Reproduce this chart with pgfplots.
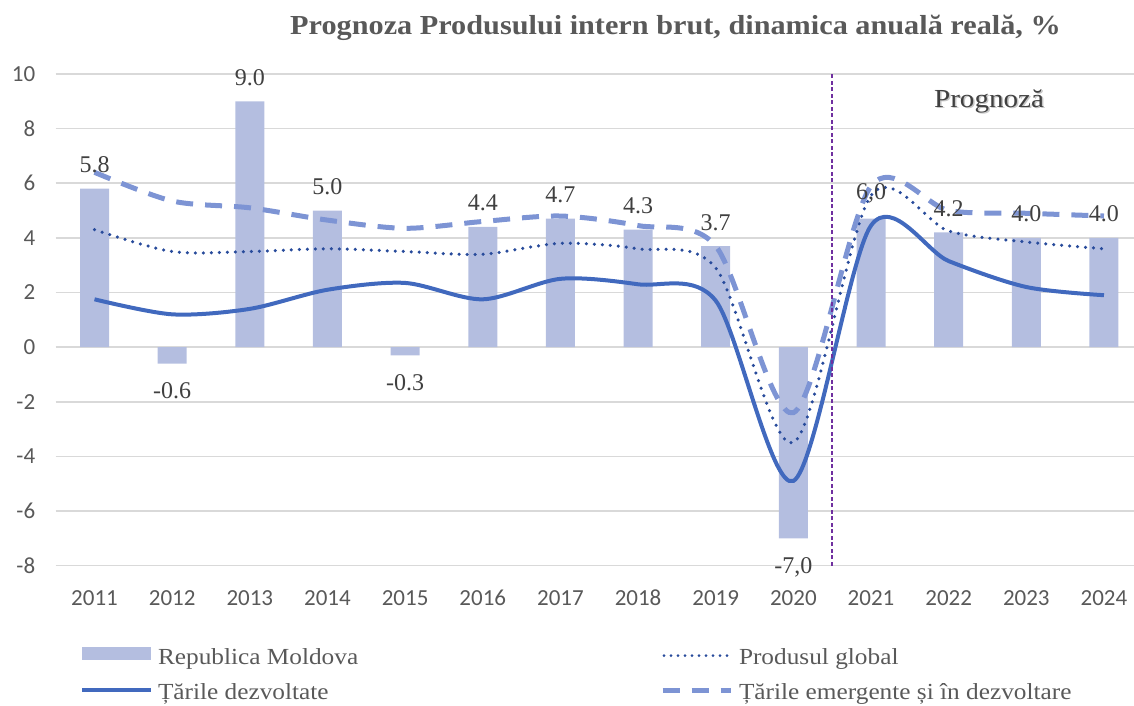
\documentclass[border=0pt]{standalone}
\usepackage{fontspec}
\setmainfont{Liberation Serif}
\newfontfamily\tickfont{Carlito}
\usepackage{pgfplots}
\usepackage{pgfplotstable}
\pgfplotsset{compat=1.18}

\definecolor{barc}{RGB}{180,190,224}
\definecolor{solidc}{RGB}{65,105,190}
\definecolor{dotc}{RGB}{40,75,155}
\definecolor{dashc}{RGB}{125,148,212}
\definecolor{vlinec}{RGB}{112,48,160}
\definecolor{txt}{RGB}{89,89,89}
\definecolor{lbl}{RGB}{64,64,64}
\definecolor{gridc}{RGB}{217,217,217}

% Republica Moldova, years with growth (label above the bar)
\pgfplotstableread{
x  rm    lab
0  5.8   5.8
2  9.0   9.0
3  5.0   5.0
5  4.4   4.4
6  4.7   4.7
7  4.3   4.3
8  3.7   3.7
10 4.7   {6,0}
11 4.2   4.2
12 4.0   4.0
13 4.0   4.0
}\rmpos
% Republica Moldova, years with decline (label below the bar)
\pgfplotstableread{
x  rm    lab
1  -0.6  -0.6
4  -0.3  -0.3
9  -7.0  {-7,0}
}\rmneg

% global, advanced, emerging
\pgfplotstableread{
x  glob  adv   emg
0  4.3   1.75  6.4
1  3.5   1.2   5.35
2  3.5   1.4   5.1
3  3.6   2.1   4.65
4  3.5   2.35  4.35
5  3.4   1.75  4.6
6  3.8   2.5   4.8
7  3.6   2.3   4.45
8  2.9   1.7   3.7
9  -3.5  -4.9  -2.4
10 5.55  4.45  5.9
11 4.25  3.15  5.0
12 3.85  2.2   4.9
13 3.6   1.9   4.8
}\lines

\newcommand{\legtxt}[1]{\scalebox{1.1}[1]{#1}}

\begin{document}
\begin{tikzpicture}
\useasboundingbox (0pt,0pt) rectangle (1134pt,705pt);
\begin{axis}[
  at={(55.7pt,139.4pt)}, anchor=south west,
  scale only axis, width=1087.1pt, height=491.6pt,
  xmin=-0.5, xmax=13.5, ymin=-8, ymax=10,
  axis line style={draw=none},
  major tick length=0pt,
  xtick={0,...,13},
  xticklabels={2011,2012,2013,2014,2015,2016,2017,2018,2019,2020,2021,2022,2023,2024},
  ytick={-8,-6,...,10},
  yticklabels={-8,-6,-4,-2,0,2,4,6,8,10},
  ymajorgrids, grid style={gridc, line width=1.6pt},
  tick label style={font=\tickfont\fontsize{23}{27}\selectfont, text=txt},
  xticklabel style={yshift=-21pt},
  yticklabel style={xshift=-17pt},
  legend columns=2,
  legend style={at={(axis description cs:0.02235,-0.1656)}, anchor=north west,
    draw=none, fill=none, inner sep=0pt, outer sep=0pt,
    font=\fontsize{23}{27}\selectfont, text=txt,
    column sep=5pt, row sep=13pt,
    nodes={inner sep=0pt, text height=17pt, text depth=5pt}},
  legend cell align=left,
  clip=false,
]
\addplot[ybar, bar width=29pt, bar shift=0pt, fill=barc, draw=none,
  point meta=explicit symbolic, nodes near coords,
  nodes near coords style={font=\fontsize{24}{28}\selectfont, text=lbl, anchor=south, inner sep=15.5pt},
  legend image code/.code={\fill[barc] (0pt,-2pt) rectangle (69pt,11pt);}]
  table[x=x, y=rm, meta=lab] {\rmpos};
\addlegendentry{\makebox[497pt][l]{\legtxt{Republica Moldova}}}

\addplot[ybar, bar width=29pt, bar shift=0pt, fill=barc, draw=none, forget plot,
  point meta=explicit symbolic, nodes near coords,
  nodes near coords style={font=\fontsize{24}{28}\selectfont, text=lbl, anchor=north, inner sep=19pt}]
  table[x=x, y=rm, meta=lab] {\rmneg};

\addplot[dotc, line width=3.5pt, line cap=round, dash pattern=on 0pt off 8pt, smooth, tension=0.5,
  legend image code/.code={\draw[dotc, line width=3pt, line cap=round, dash pattern=on 0pt off 7pt] (1.5pt,2.5pt) -- (70pt,2.5pt);}]
  table[x=x, y=glob] {\lines};
\addlegendentry{\legtxt{Produsul global}}

\addplot[solidc, line width=4pt, smooth, tension=0.5,
  legend image code/.code={\draw[solidc, line width=4pt] (0pt,3pt) -- (69pt,3pt);}]
  table[x=x, y=adv] {\lines};
\addlegendentry{\makebox[497pt][l]{\legtxt{Țările dezvoltate}}}

\addplot[dashc, line width=5pt, dash pattern=on 17pt off 12pt, smooth, tension=0.5,
  legend image code/.code={\draw[dashc, line width=5pt, dash pattern=on 17pt off 12pt] (0pt,3pt) -- (68pt,3pt);}]
  table[x=x, y=emg] {\lines};
\addlegendentry{\legtxt{Țările emergente  și în dezvoltare}}

\draw[vlinec, line width=1.5pt, dash pattern=on 4pt off 2.5pt] (axis cs:9.5,-8) -- (axis cs:9.5,10);
\node[text=gray!45, font=\fontsize{26}{30}\selectfont] at ([xshift=1.5pt,yshift=-1.5pt]axis cs:11.52,9.0) {\scalebox{1.12}[1]{Prognoză}};
\node[text=lbl, font=\fontsize{26}{30}\selectfont] at (axis cs:11.52,9.0) {\scalebox{1.12}[1]{Prognoză}};
\end{axis}
\node[text=txt, font=\bfseries\fontsize{27.5}{32}\selectfont] at (675.5pt,677pt) {\scalebox{1.1}[1]{Prognoza Produsului intern brut, dinamica anuală reală, \%}};
\end{tikzpicture}
\end{document}
